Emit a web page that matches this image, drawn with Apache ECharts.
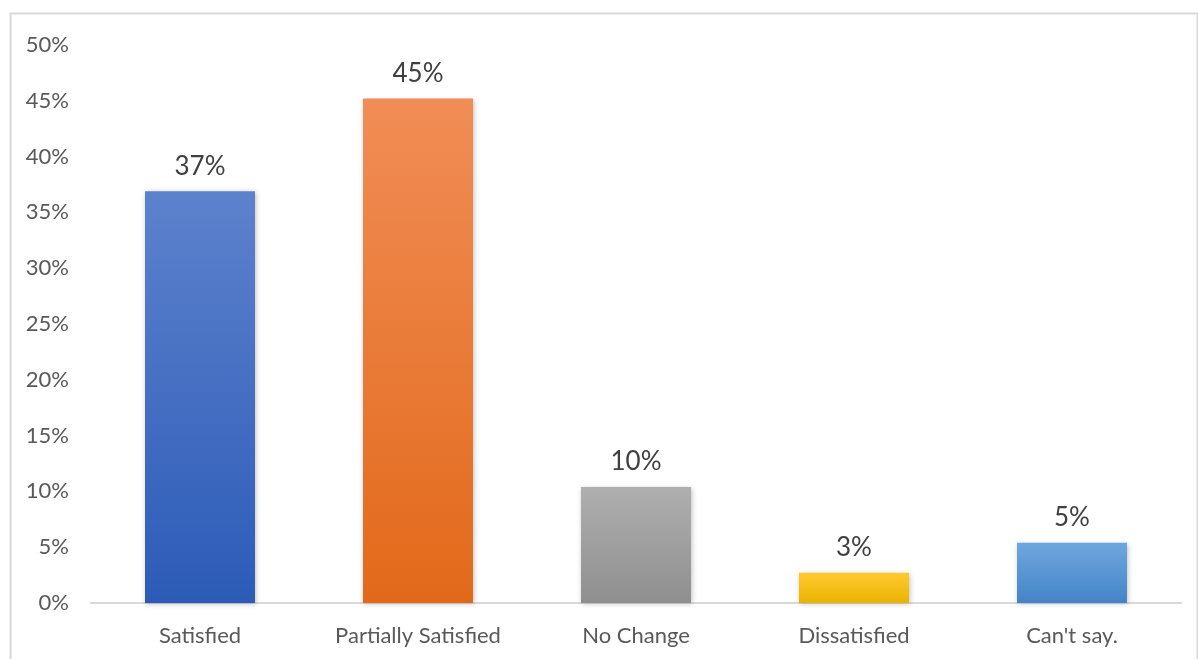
<!DOCTYPE html>
<html><head><meta charset="utf-8">
<script src="https://cdn.jsdelivr.net/npm/echarts@6/dist/echarts.min.js"></script>
<style>html,body{margin:0;padding:0;background:#fff}#c{width:1198px;height:659px}</style>
</head><body><div id="c"></div>
<script>
const categories = ['Satisfied', 'Partially Satisfied', 'No Change', 'Dissatisfied', "Can't say."];
const values = [36.9, 45.2, 10.4, 2.7, 5.4];
const valueLabels = ['37%', '45%', '10%', '3%', '5%'];
const gradientTops = ['#5d82cd', '#f18d56', '#afafaf', '#ffca30', '#6fa7de'];
const gradientBottoms = ['#2c5bb7', '#e2691a', '#8f8f8f', '#eab300', '#4384c8'];

const chart = echarts.init(document.getElementById('c'), null, {renderer: 'canvas'});
const font = 'Lato, "Open Sans", sans-serif';
chart.setOption({
  animation: false,
  graphic: [{type: 'rect', shape: {x: 10.5, y: 13.5, width: 1187, height: 660}, style: {fill: 'none', stroke: '#d9d9d9', lineWidth: 2}, z: -1}],
  grid: {left: 91, right: 17, top: 45, bottom: 56},
  xAxis: {
    type: 'category', data: categories,
    axisLine: {lineStyle: {color: '#d9d9d9', width: 2}},
    axisTick: {show: false},
    axisLabel: {color: '#595959', fontSize: 22, fontFamily: font, margin: 22}
  },
  yAxis: {
    type: 'value', min: 0, max: 50, interval: 5,
    axisLine: {show: false}, axisTick: {show: false},
    splitLine: {show: false},
    axisLabel: {color: '#595959', fontSize: 22, fontFamily: font, margin: 22, formatter: v => v + '%'}
  },
  series: [{
    type: 'bar', barWidth: 110,
    data: values.map((v, i) => ({
      value: v,
      itemStyle: {
        color: new echarts.graphic.LinearGradient(0, 0, 0, 1, [
          {offset: 0, color: gradientTops[i]}, {offset: 1, color: gradientBottoms[i]}
        ]),
        shadowColor: 'rgba(0,0,0,0.25)', shadowBlur: 5, shadowOffsetX: 1, shadowOffsetY: 1
      }
    })),
    label: {
      show: true, position: 'top', distance: 12,
      color: '#404040', fontSize: 26, fontFamily: font,
      formatter: p => valueLabels[p.dataIndex]
    }
  }]
});
</script></body></html>
